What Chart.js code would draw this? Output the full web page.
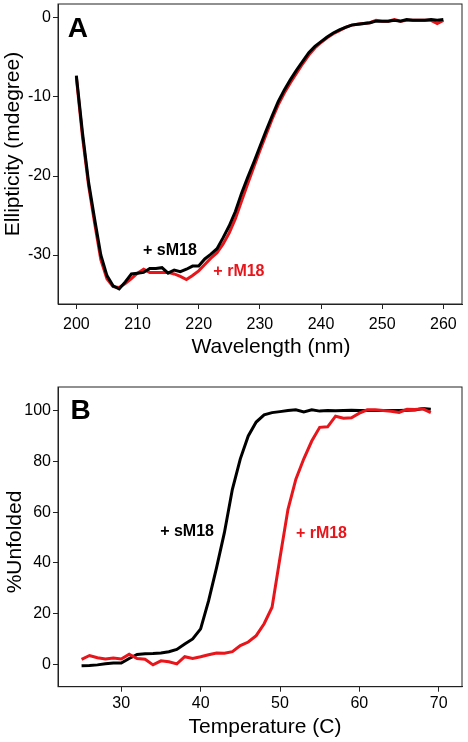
<!DOCTYPE html>
<html>
<head>
<meta charset="utf-8">
<script src="https://cdn.jsdelivr.net/npm/chart.js@4"></script>
<style>
  html, body { margin: 0; padding: 0; background: #fff; }
  #wrap { position: relative; width: 468px; height: 742px; }
  canvas { position: absolute; left: 0; }
</style>
</head>
<body>
<div id="wrap">
  <canvas id="chartA" width="468" height="371" style="top:0"></canvas>
  <canvas id="chartB" width="468" height="371" style="top:371px"></canvas>
</div>
<script>
// panel A: CD spectra
const wavelengths = [200, 201, 202, 203, 204, 205, 206, 207, 208, 209, 210, 211, 212, 213, 214, 215, 216, 217, 218, 219,
  220, 221, 222, 223, 224, 225, 226, 227, 228, 229, 230, 231, 232, 233, 234, 235, 236, 237, 238, 239,
  240, 241, 242, 243, 244, 245, 246, 247, 248, 249, 250, 251, 252, 253, 254, 255, 256, 257, 258, 259, 260];
const cdSM18 = [-7.3, -14.5, -20.8, -25.5, -30.0, -32.6, -33.9, -34.3, -33.4, -32.4, -32.3, -32.2, -31.7, -31.7, -31.6, -32.3, -31.9, -32.1, -31.8, -31.4,
  -31.4, -30.5, -29.9, -29.2, -27.8, -26.3, -24.5, -22.2, -20.2, -18.3, -16.3, -14.3, -12.4, -10.6, -9.1, -7.8, -6.6, -5.5, -4.4, -3.6,
  -3.0, -2.4, -1.9, -1.5, -1.2, -0.9, -0.8, -0.7, -0.6, -0.4, -0.4, -0.4, -0.3, -0.4, -0.2, -0.3, -0.3, -0.3, -0.2, -0.3, -0.2];
const cdRM18 = [-7.5, -15.0, -21.2, -26.0, -30.6, -33.0, -34.0, -34.1, -33.6, -33.0, -32.3, -31.8, -32.2, -32.2, -32.2, -32.2, -32.4, -32.7, -33.1, -32.6,
  -32.0, -31.2, -30.4, -29.7, -28.6, -27.2, -25.4, -23.2, -21.0, -18.9, -16.8, -14.8, -12.8, -11.0, -9.5, -8.2, -7.0, -5.8, -4.7, -3.8,
  -3.1, -2.5, -2.0, -1.6, -1.2, -0.9, -0.8, -0.7, -0.6, -0.3, -0.4, -0.4, -0.2, -0.4, -0.3, -0.3, -0.3, -0.3, -0.3, -0.7, -0.3];
const xTicksA = [200, 210, 220, 230, 240, 250, 260];
const yTicksA = [0, -10, -20, -30];

// panel B: thermal melt
const temperatures = [25, 26, 27, 28, 29, 30, 31, 32, 33, 34, 35, 36, 37, 38, 39, 40, 41, 42, 43, 44, 45, 46, 47,
  48, 49, 50, 51, 52, 53, 54, 55, 56, 57, 58, 59, 60, 61, 62, 63, 64, 65, 66, 67, 68, 69];
const meltSM18 = [-0.5, -0.4, -0.2, 0.2, 0.5, 0.5, 2.3, 3.9, 4.2, 4.3, 4.5, 5.0, 5.9, 8.0, 10.0, 14.0, 25.0, 38.0, 52.0, 69.0, 81.0, 90.0, 95.5,
  98.3, 99.2, 99.6, 100.0, 100.3, 99.5, 100.3, 99.8, 100.0, 99.9, 100.0, 100.1, 100.0, 100.0, 100.0, 100.0, 100.0, 100.0, 100.1, 100.2, 100.8, 100.5];
const meltRM18 = [2.0, 3.5, 2.6, 2.1, 2.5, 2.1, 4.0, 2.3, 2.0, -0.2, 1.4, 1.0, 0.2, 3.0, 2.3, 3.0, 3.8, 4.5, 4.4, 5.0, 7.4, 8.8, 11.3,
  16.0, 22.5, 42.0, 61.0, 73.0, 81.0, 88.0, 93.4, 93.6, 97.8, 97.0, 97.2, 99.0, 100.3, 100.3, 100.0, 99.7, 99.3, 100.5, 100.4, 100.7, 99.2];
const xTicksB = [30, 40, 50, 60, 70];
const yTicksB = [0, 20, 40, 60, 80, 100];

const FONT = '"Liberation Sans", Arial, sans-serif';
const RED = '#e8151b';
const FRAME = '#222';

function pts(xs, ys) {
  return xs.map((x, i) => ({ x: x, y: ys[i] }));
}

// frame, axis titles and in-plot labels
const extras = {
  id: 'extras',
  afterDraw(chart, args, opts) {
    const ctx = chart.ctx;
    const a = chart.chartArea;
    ctx.save();
    ctx.strokeStyle = FRAME;
    ctx.lineWidth = 1;
    ctx.strokeRect(a.left, a.top, a.right - a.left, a.bottom - a.top);

    ctx.fillStyle = '#000';
    ctx.font = '21px ' + FONT;
    ctx.textAlign = 'center';
    ctx.textBaseline = 'middle';
    ctx.fillText(opts.xTitle.text, opts.xTitle.x, opts.xTitle.y);
    ctx.save();
    ctx.translate(opts.yTitle.x, opts.yTitle.y);
    ctx.rotate(-Math.PI / 2);
    ctx.fillText(opts.yTitle.text, 0, 0);
    ctx.restore();

    const xs = chart.scales.x, ys = chart.scales.y;
    ctx.textAlign = 'left';
    opts.labels.forEach(l => {
      ctx.font = 'bold ' + l.size + 'px ' + FONT;
      ctx.fillStyle = l.color;
      ctx.fillText(l.text, xs.getPixelForValue(l.x), ys.getPixelForValue(l.y));
    });
    ctx.restore();
  }
};

function axis(min, max, tickVals, pad, fit) {
  return {
    type: 'linear',
    min: min,
    max: max,
    grid: { display: true, drawOnChartArea: false, drawTicks: true, tickLength: 5, color: FRAME },
    border: { display: true, color: FRAME, width: 1 },
    ticks: { color: '#000', font: { family: FONT, size: 16 }, padding: pad },
    afterBuildTicks: s => { s.ticks = tickVals.map(v => ({ value: v })); },
    afterFit: s => {
      fit(s);
      s.paddingTop = 0; s.paddingBottom = 0; s.paddingLeft = 0; s.paddingRight = 0;
    }
  };
}

function makeChart(id, cfg) {
  return new Chart(document.getElementById(id).getContext('2d'), {
    type: 'line',
    data: { datasets: cfg.datasets },
    options: {
      responsive: false,
      animation: false,
      layout: { padding: { left: 0, top: cfg.top, right: 6, bottom: 0 } },
      elements: { point: { radius: 0 }, line: { borderWidth: 3, tension: 0 } },
      plugins: { legend: { display: false }, tooltip: { enabled: false }, extras: cfg.extras },
      scales: {
        x: axis(cfg.x[0], cfg.x[1], cfg.xTicks, cfg.xPad, s => { s.height = cfg.xHeight; }),
        y: axis(cfg.y[0], cfg.y[1], cfg.yTicks, 2, s => { s.width = 58; })
      }
    },
    plugins: [extras]
  });
}

makeChart('chartA', {
  top: 4,
  x: [197, 263.05], y: [-36.2, 1.77],
  xTicks: xTicksA, yTicks: yTicksA,
  xPad: 6, xHeight: 67,
  datasets: [
    { label: '+ sM18', data: pts(wavelengths, cdSM18), borderColor: '#000', order: 0 },
    { label: '+ rM18', data: pts(wavelengths, cdRM18), borderColor: RED, order: 1 }
  ],
  extras: {
    xTitle: { text: 'Wavelength (nm)', x: 271, y: 347 },
    yTitle: { text: 'Ellipticity (mdegree)', x: 13, y: 144 },
    labels: [
      { text: 'A', x: 198.6, y: -1.4, size: 28, color: '#000' },
      { text: '+ sM18', x: 210.9, y: -29.4, size: 16, color: '#000' },
      { text: '+ rM18', x: 222.4, y: -32.1, size: 16, color: RED }
    ]
  }
});

makeChart('chartB', {
  top: 16,
  x: [22.03, 72.93], y: [-8.8, 109.3],
  xTicks: xTicksB, yTicks: yTicksB,
  xPad: 2, xHeight: 55.3,
  datasets: [
    { label: '+ rM18', data: pts(temperatures, meltRM18), borderColor: RED, order: 0 },
    { label: '+ sM18', data: pts(temperatures, meltSM18), borderColor: '#000', order: 1 }
  ],
  extras: {
    xTitle: { text: 'Temperature (C)', x: 265, y: 356 },
    yTitle: { text: '%Unfolded', x: 15, y: 171 },
    labels: [
      { text: 'B', x: 23.6, y: 99.8, size: 28, color: '#000' },
      { text: '+ sM18', x: 34.9, y: 52.5, size: 16, color: '#000' },
      { text: '+ rM18', x: 52.0, y: 51.4, size: 16, color: RED }
    ]
  }
});
</script>
</body>
</html>
